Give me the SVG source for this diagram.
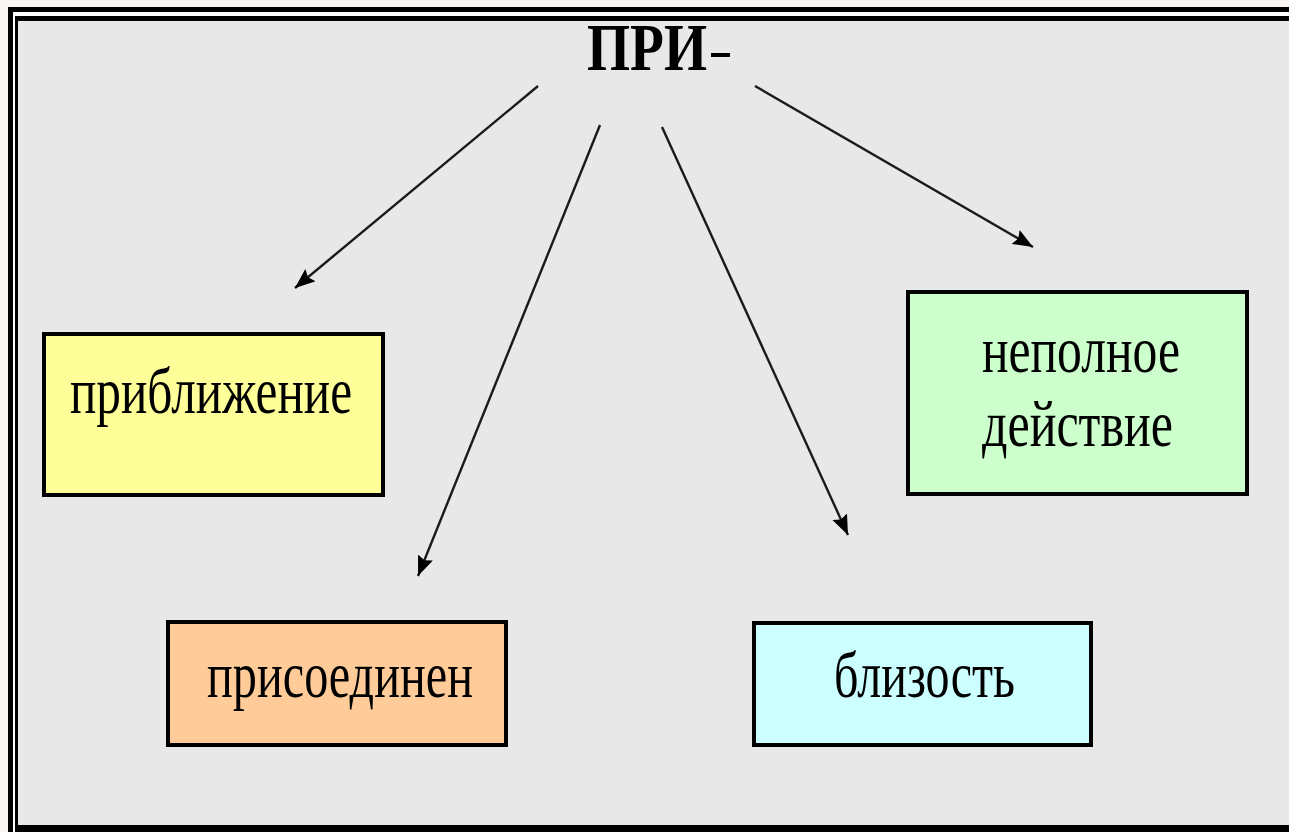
<svg xmlns="http://www.w3.org/2000/svg" width="1289" height="832" viewBox="0 0 1289 832">
<style>
.box{stroke:#000;stroke-width:4}
.lbl{font-family:"Liberation Serif","Times New Roman",serif;font-size:66px;fill:#000}
.conn{stroke:#1a1a1a;stroke-width:2.4;fill:none;marker-end:url(#ah)}
</style>
<defs>
<marker id="ah" markerUnits="userSpaceOnUse" markerWidth="24" markerHeight="20" refX="20" refY="8" orient="auto">
<path d="M0,0 L20,8 L0,16 L3,8 Z" fill="#000"/>
</marker>
</defs>
<rect x="0" y="0" width="1289" height="832" fill="#f9f6f3"/>
<g id="frame">
<rect x="8" y="7" width="1290" height="830" fill="#000"/>
<rect x="13" y="12" width="1290" height="830" fill="#fff"/>
<rect x="15" y="16" width="1290" height="820" fill="#000"/>
<rect x="18" y="21" width="1290" height="804" fill="#e8e8e8"/>
</g>
<g id="title">
<text x="587" y="70" class="lbl" style="font-weight:bold;font-size:68px" textLength="120" lengthAdjust="spacingAndGlyphs">ПРИ</text>
<rect x="711" y="53" width="19" height="4" fill="#000"/>
</g>
<g id="connectors">
<line class="conn" x1="538" y1="86" x2="295" y2="288"/>
<line class="conn" x1="600" y1="125" x2="418" y2="576"/>
<line class="conn" x1="662" y1="127" x2="848" y2="535"/>
<line class="conn" x1="755" y1="86" x2="1033" y2="247"/>
</g>
<g id="node-priblizhenie">
<rect class="box" x="44" y="334" width="339" height="161" fill="#ffff99"/>
<text class="lbl" x="70" y="413" textLength="282" lengthAdjust="spacingAndGlyphs">приближение</text>
</g>
<g id="node-nepolnoe">
<rect class="box" x="908" y="292" width="339" height="202" fill="#ccffcc"/>
<text class="lbl" x="982" y="372" textLength="198" lengthAdjust="spacingAndGlyphs">неполное</text>
<text class="lbl" x="982" y="446" textLength="191" lengthAdjust="spacingAndGlyphs">действие</text>
</g>
<g id="node-prisoedinen">
<rect class="box" x="168" y="622" width="338" height="123" fill="#ffcc99"/>
<text class="lbl" x="207" y="697" textLength="266" lengthAdjust="spacingAndGlyphs">присоединен</text>
</g>
<g id="node-blizost">
<rect class="box" x="754" y="623" width="337" height="122" fill="#ccffff"/>
<text class="lbl" x="834" y="697" textLength="181" lengthAdjust="spacingAndGlyphs">близость</text>
</g>
</svg>
